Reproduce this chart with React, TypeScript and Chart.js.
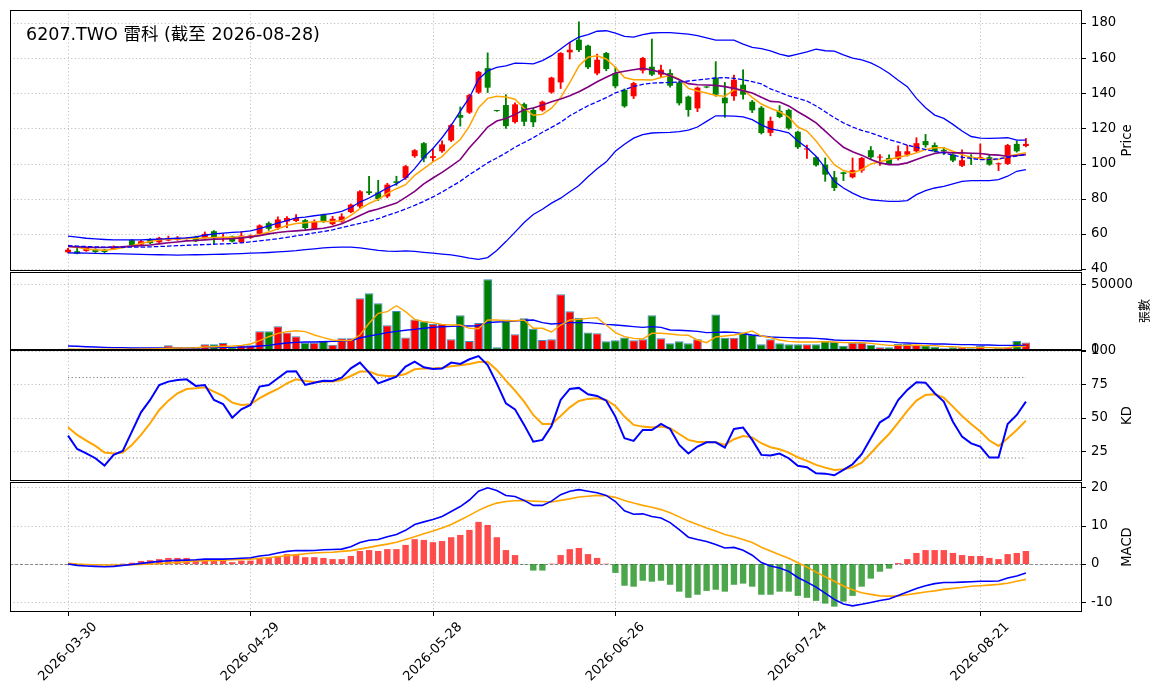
import React, { useEffect, useRef } from "react";
import { Chart, registerables } from "chart.js";

Chart.register(...registerables);

// ---------------- DATA ----------------
const TITLE = "6207.TWO 雷科 (截至 2026-08-28)";

const DATES = [
  "2026-03-30","2026-03-31","2026-04-01","2026-04-02","2026-04-07","2026-04-08","2026-04-09","2026-04-10","2026-04-13","2026-04-14",
  "2026-04-15","2026-04-16","2026-04-17","2026-04-20","2026-04-21","2026-04-22","2026-04-23","2026-04-24","2026-04-27","2026-04-28",
  "2026-04-29","2026-04-30","2026-05-04","2026-05-05","2026-05-06","2026-05-07","2026-05-08","2026-05-11","2026-05-12","2026-05-13",
  "2026-05-14","2026-05-15","2026-05-18","2026-05-19","2026-05-20","2026-05-21","2026-05-22","2026-05-25","2026-05-26","2026-05-27",
  "2026-05-28","2026-05-29","2026-06-01","2026-06-02","2026-06-03","2026-06-04","2026-06-05","2026-06-08","2026-06-09","2026-06-10",
  "2026-06-11","2026-06-12","2026-06-15","2026-06-16","2026-06-17","2026-06-18","2026-06-22","2026-06-23","2026-06-24","2026-06-25",
  "2026-06-26","2026-06-29","2026-06-30","2026-07-01","2026-07-02","2026-07-03","2026-07-06","2026-07-07","2026-07-08","2026-07-09",
  "2026-07-10","2026-07-13","2026-07-14","2026-07-15","2026-07-16","2026-07-17","2026-07-20","2026-07-21","2026-07-22","2026-07-23",
  "2026-07-24","2026-07-27","2026-07-28","2026-07-29","2026-07-30","2026-07-31","2026-08-03","2026-08-04","2026-08-05","2026-08-06",
  "2026-08-07","2026-08-10","2026-08-11","2026-08-12","2026-08-13","2026-08-14","2026-08-17","2026-08-18","2026-08-19","2026-08-20",
  "2026-08-21","2026-08-24","2026-08-25","2026-08-26","2026-08-27","2026-08-28",
];

const OPEN = [
  49.5,50.1,50.3,51.2,50.9,51.2,52.3,56.4,53.9,57.0, 55.2,56.2,56.6,57.2,58.3,57.7,61.5,57.5,58.5,55.2,
  57.7,60.0,66.1,63.4,67.0,67.3,67.8,62.9,70.9,65.5, 67.0,72.4,75.6,84.2,83.6,81.3,89.9,91.8,104.2,111.6,
  103.2,107.0,113.1,127.6,129.0,140.4,154.3,130.1,133.3,123.6, 133.8,130.5,130.3,140.5,146.2,163.3,170.5,167.1,151.3,162.9,
  151.5,142.0,138.3,152.9,155.1,150.6,151.5,146.2,138.1,131.4, 143.6,148.9,137.5,138.3,144.9,135.2,131.8,117.5,130.0,130.5,
  118.1,108.0,103.6,99.4,92.2,95.0,92.2,96.0,107.6,103.4, 103.2,102.7,105.1,107.0,112.8,110.5,107.8,105.1,98.7,103.6,
  102.7,103.6,99.6,99.8,111.2,110.0,
];
const HIGH = [
  51.8,51.8,52.4,51.5,51.2,53.2,53.0,56.8,56.3,57.3, 58.1,58.7,58.5,58.0,58.7,61.1,61.8,60.0,58.8,61.3,
  59.4,65.2,66.8,69.7,69.8,71.0,68.3,68.0,71.3,70.0, 71.5,77.0,84.6,92.8,90.5,88.8,92.8,99.0,108.0,112.0,
  108.6,113.0,122.5,132.2,139.5,152.5,163.0,130.3,139.2,134.5, 134.5,131.7,135.6,149.2,163.2,169.0,180.7,167.5,162.3,163.3,
  155.0,142.5,146.3,160.5,170.9,156.0,153.5,147.0,138.5,143.6, 143.8,158.0,146.2,150.3,153.4,136.0,132.5,126.5,133.0,131.0,
  118.5,110.5,104.0,103.2,95.6,95.2,103.2,103.6,109.7,105.1, 105.0,110.1,110.5,114.7,116.6,111.8,109.3,105.5,107.8,105.1,
  111.2,105.1,100.4,111.0,112.8,114.3,
];
const LOW = [
  49.2,48.6,50.0,49.4,49.0,51.0,52.0,53.2,53.5,54.3, 55.0,56.0,56.3,57.0,55.5,57.5,54.0,55.8,55.3,55.0,
  57.3,59.6,62.0,62.5,63.5,67.0,62.5,62.5,66.5,65.0, 66.5,72.0,74.9,82.3,79.0,80.5,87.6,91.0,103.5,101.0,
  101.3,106.3,112.5,121.3,128.5,139.8,140.4,129.7,120.0,123.0, 121.5,121.0,129.8,140.0,142.7,159.5,163.7,154.0,150.5,152.8,
  143.0,132.0,137.0,151.5,150.0,149.0,143.5,133.3,126.9,129.5, 143.1,138.3,126.3,136.0,136.7,129.0,116.8,115.8,126.0,119.5,
  108.5,102.9,98.5,89.9,84.6,90.3,91.8,95.0,102.9,99.0, 99.4,102.0,104.2,106.5,109.3,106.5,105.1,101.0,98.3,99.4,
  102.3,99.0,96.0,99.4,106.5,109.5,
];
const CLOSE = [
  51.0,48.8,52.0,49.7,49.7,52.8,52.6,53.5,55.8,54.7, 57.7,57.5,57.7,57.4,55.8,60.0,57.7,57.9,55.6,59.0,
  59.0,64.8,62.9,68.2,69.0,69.0,63.3,67.0,67.0,68.6, 69.9,76.6,84.2,83.2,79.8,88.0,89.0,98.5,107.6,102.9,
  104.2,110.9,121.9,126.1,139.0,152.2,143.2,129.9,121.3,133.7, 123.8,123.5,135.2,148.9,162.9,164.8,164.6,154.8,159.1,153.8,
  144.0,132.6,145.8,160.1,150.6,153.4,144.3,134.3,130.5,143.2, 143.3,139.2,134.3,147.7,139.2,130.3,117.4,124.3,126.5,120.0,
  109.3,108.6,99.0,93.7,86.1,94.1,96.2,103.2,103.6,103.8, 99.8,107.0,107.0,111.6,110.5,107.0,107.0,101.7,101.9,103.2,
  103.6,99.4,99.8,110.5,107.0,111.2,
];

const MA5 = [
  52.9,52.3,51.4,50.9,50.7,51.2,52.2,53.3,54.5,55.6, 56.6,57.1,57.1,57.3,57.3,57.7,57.9,58.1,58.1,58.3,
  58.5,59.6,61.0,62.9,64.8,65.9,66.3,66.9,67.0,67.0, 67.4,70.5,74.3,77.3,79.6,83.0,85.7,88.0,93.3,97.1,
  101.0,104.0,109.3,113.7,121.3,131.8,137.1,138.3,137.9,136.6, 131.5,127.5,128.0,131.5,137.5,146.0,155.5,160.5,161.3,159.5,
  154.8,149.0,147.7,147.7,147.5,149.0,150.3,148.1,142.8,141.3, 140.2,138.8,138.3,142.0,142.0,137.7,133.9,131.5,129.5,126.5,
  120.8,118.5,112.8,106.1,99.4,96.0,94.7,96.6,99.8,101.0, 102.3,103.6,104.6,106.1,108.0,109.0,109.0,107.0,105.1,103.6,
  102.9,102.3,102.3,104.2,105.1,106.1,
];
const MA10 = [
  52.8,52.6,52.4,52.2,52.2,52.4,52.6,53.0,53.3,53.7, 54.3,54.9,55.4,56.0,56.2,56.6,57.0,57.1,57.3,57.7,
  58.3,59.0,60.0,60.8,61.3,61.7,62.1,62.7,63.2,64.2, 65.7,68.0,70.5,72.8,74.1,75.8,77.5,80.8,84.2,88.4,
  91.8,95.0,98.5,102.3,109.0,114.7,120.8,124.2,125.7,128.0, 130.6,131.6,133.3,135.2,136.7,138.6,140.9,143.6,146.6,149.1,
  151.5,152.5,153.4,154.2,153.2,151.9,150.0,147.7,145.5,144.9, 144.7,144.5,143.8,142.8,141.5,140.2,137.7,135.4,135.0,132.8,
  129.5,126.5,123.2,118.5,113.7,109.3,106.7,104.8,102.3,100.4, 99.4,99.4,100.4,102.3,104.2,105.7,106.5,106.1,106.1,105.9,
  105.7,105.1,104.8,104.2,104.6,105.1,
];
const BB_MID = [
  53.3,53.0,52.8,52.6,52.4,52.4,52.4,52.4,52.4,52.6, 52.8,53.0,53.3,53.5,53.7,53.9,54.1,54.3,54.5,54.9,
  55.4,56.0,56.6,57.2,58.0,58.9,59.6,60.6,61.3,62.3, 63.6,64.8,65.9,67.2,68.6,70.5,72.2,74.1,76.2,78.5,
  81.0,83.8,86.9,89.9,93.7,97.0,100.4,103.2,106.1,109.3, 112.0,114.7,117.8,120.6,123.5,127.2,130.1,132.9,135.2,137.5,
  140.2,142.0,143.9,145.1,145.8,146.0,146.2,146.4,147.0,147.6, 148.1,148.7,148.9,148.5,147.7,146.6,145.3,142.5,140.6,138.5,
  137.1,135.6,132.8,129.5,126.1,123.2,120.8,118.9,117.5,115.6, 113.7,112.2,110.5,109.3,108.0,107.0,106.1,104.8,103.6,102.9,
  102.3,102.3,102.7,103.6,104.2,105.1,
];
const BB_UP = [
  58.7,58.1,57.5,57.1,56.8,56.6,56.6,56.6,56.6,56.8, 57.0,57.3,57.5,57.7,58.3,59.2,60.0,60.4,60.8,61.1,
  61.7,63.0,64.6,66.1,67.6,69.1,69.5,70.3,70.9,71.6, 72.8,75.0,78.1,80.4,83.2,86.1,88.4,91.8,97.1,103.6,
  108.6,114.7,121.7,129.9,137.5,148.0,152.8,154.7,155.6,157.1, 157.0,156.7,158.6,161.4,165.2,169.0,172.0,173.4,175.3,175.6,
  174.3,172.4,172.0,173.4,174.3,174.5,174.5,174.1,173.7,172.8, 171.5,170.3,170.3,170.3,168.0,166.1,165.4,164.2,162.3,161.1,
  162.3,163.6,165.1,164.2,164.0,161.9,160.0,159.0,157.3,154.7, 151.4,147.4,143.8,137.1,131.8,127.6,125.7,122.3,118.5,115.4,
  114.5,114.3,114.5,114.7,113.3,113.3,
];
const BB_LOW = [
  49.2,49.1,49.0,48.9,48.8,48.7,48.6,48.5,48.3,48.2, 48.1,48.0,47.9,48.0,48.1,48.2,48.3,48.4,48.6,48.8,
  49.0,49.2,49.4,49.7,50.0,50.4,51.0,51.5,52.0,52.3, 52.5,52.4,52.0,51.3,50.6,50.2,50.0,50.3,50.0,49.5,
  49.0,48.5,48.0,47.2,46.2,45.5,46.5,50.5,55.6,61.0, 66.5,71.0,74.0,77.5,80.3,84.0,87.5,92.5,97.0,101.0,
  107.0,111.0,114.5,116.5,117.4,117.6,117.8,118.2,119.0,120.8, 124.0,127.2,127.2,127.0,126.6,125.0,122.0,119.7,118.7,117.5,
  112.8,109.0,104.2,97.5,89.9,86.1,83.2,80.8,79.4,78.9, 78.5,78.5,78.9,82.3,84.6,86.1,87.0,88.4,89.9,90.3,
  90.3,90.3,90.9,92.8,95.6,96.6,
];

const VOLUME = [
  1000,500,700,700,600,700,700,1000,1000,1000, 1500,3550,2000,1000,1500,4300,4300,5300,2000,3550,
  3550,14200,14200,18000,13400,10400,5600,5600,7100,4000, 8900,8900,39300,43100,35500,18800,29700,9600,23300,21800,
  19800,19800,8100,26400,6900,20500,53800,2000,23300,11900, 24100,16200,7600,8100,42400,29400,24600,13400,12700,6600,
  7400,9600,7400,8100,26400,8900,5100,6600,5100,8100, 800,27100,9400,9400,13400,11400,4300,8100,5100,4300,
  4300,4300,4300,7100,6100,3300,5600,5600,4000,2000, 2000,4600,4600,4000,3550,2500,1300,2000,2000,1300,
  3000,800,1500,2000,6900,5800,
];
const VOL_MA5 = [
  600,550,500,500,550,600,650,700,750,800, 1000,1300,1500,1600,1700,2300,2500,2800,3000,3550,
  4600,7100,10100,12700,14000,14700,14000,11400,9400,7600, 7100,7100,11400,20300,27900,29200,33700,29200,23300,21600,
  20800,19500,19000,19000,16500,16200,22800,22800,22300,22300, 22800,16500,16500,13700,19000,22800,23300,24100,24600,19000,
  13200,10150,8880,8370,12700,12700,12200,11400,11200,7600, 5580,9900,10650,11400,12700,14500,10650,9390,7600,6600,
  6090,6090,6090,6340,6090,5580,5580,5580,5070,4310, 3550,3550,3550,3800,3300,3300,2790,2540,2030,1780,
  2030,1780,1520,1780,2540,2790,
];
const VOL_MA20 = [
  3000,2800,2500,2300,2000,1800,1800,1500,1500,1500, 1500,1500,1500,1500,1500,1800,1800,2000,2000,2300,
  2500,3000,3550,4600,5300,5800,6100,6100,6300,6600, 6850,7100,9100,10650,11900,13200,14200,15000,15700,16500,
  17250,17750,18000,18300,18300,18500,20800,21300,21600,22100, 22600,22800,20800,19800,20300,20800,20800,20800,20300,19500,
  19000,18500,17800,17200,17800,17200,15200,14990,14700,14200, 13200,13450,13700,13450,12400,11400,10650,9900,9640,9390,
  9130,9130,8880,8370,7600,7360,7360,7100,6850,6600, 6340,5580,5330,5070,4820,4570,4570,4310,4060,4060,
  3800,3800,3550,3550,3550,3550,
];

const K_LINE = [
  36.7,26.7,23.5,19.8,14.3,22.3,25.2,39.7,54.1,63.3, 74.5,77.0,78.2,78.7,73.8,74.5,63.3,60.3,50.1,56.3,
  59.6,73.3,74.5,79.5,84.5,84.7,74.5,76.2,77.7,77.5, 80.0,86.9,91.2,83.7,75.7,78.2,80.7,88.2,91.9,87.7,
  86.4,86.7,91.2,90.2,93.7,96.1,89.4,75.7,60.8,56.3, 44.7,32.2,33.5,43.9,63.3,71.5,72.3,67.5,66.3,62.8,
  50.9,34.7,32.7,40.9,40.9,45.4,41.7,29.7,23.3,28.5, 31.7,31.7,27.7,41.7,42.7,33.5,22.3,21.8,23.3,19.8,
  14.1,13.1,8.6,8.3,7.1,11.1,15.3,22.8,34.7,46.6, 50.9,63.3,70.8,76.5,76.2,68.3,62.1,47.1,35.9,30.9,
  28.5,20.3,20.3,45.4,52.1,62.1,
];
const D_LINE = [
  42.9,37.2,33.0,29.0,24.0,23.3,24.0,29.7,37.2,45.9, 55.8,62.8,68.3,71.5,72.0,72.8,69.5,66.3,61.3,59.6,
  60.1,64.6,68.3,71.5,75.7,78.7,77.5,76.7,77.0,77.0, 78.2,81.2,84.5,84.5,82.0,81.2,81.2,82.7,86.2,86.7,
  86.7,87.4,88.4,89.2,90.2,91.7,91.9,85.7,77.7,70.3, 62.1,52.1,45.4,45.4,51.4,57.8,62.6,64.1,64.6,63.3,
  58.8,50.9,44.7,43.4,42.7,43.4,42.2,37.9,33.5,32.0, 32.0,31.7,29.7,34.0,36.4,35.4,31.0,28.0,26.5,24.0,
  20.5,17.8,14.8,12.8,11.1,11.6,13.1,16.5,23.5,31.0, 37.9,46.4,55.1,62.8,67.0,67.5,65.0,58.3,51.4,45.4,
  39.7,33.0,29.0,34.7,40.9,47.9,
];
const KD_LEVELS = [80, 20];

const DIF = [
  0,-0.35,-0.5,-0.6,-0.7,-0.6,-0.35,-0.1,0.17,0.43, 0.7,0.87,0.96,1.04,1.13,1.3,1.3,1.3,1.4,1.5,
  1.65,2.1,2.35,2.9,3.3,3.55,3.5,3.55,3.75,3.8, 3.9,4.5,5.6,6.2,6.4,7.1,7.7,8.8,10.3,11.0,
  11.6,12.4,13.7,15.0,16.7,19.0,19.9,19.2,17.9,17.6, 16.6,15.3,15.3,16.4,18.1,19.0,19.4,19.0,18.6,17.9,
  16.3,13.9,13.0,13.1,12.4,12.0,10.8,9.0,7.0,6.4, 5.9,5.1,4.2,4.35,3.6,2.3,0.4,-0.5,-1.0,-1.9,
  -3.5,-4.7,-6.0,-7.6,-9.2,-10.4,-10.9,-10.5,-10.0,-9.5, -9.1,-8.2,-7.3,-6.4,-5.65,-5.1,-4.8,-4.8,-4.7,-4.6,
  -4.5,-4.5,-4.4,-3.65,-3.1,-2.35,
];
const DEA = [
  0.17,0,-0.1,-0.17,-0.26,-0.26,-0.26,-0.17,-0.1,0, 0.1,0.26,0.43,0.6,0.78,0.87,0.96,1.04,1.13,1.2,
  1.3,1.5,1.65,1.9,2.2,2.4,2.7,2.9,3.0,3.1, 3.3,3.5,3.9,4.35,4.8,5.2,5.7,6.4,7.1,7.9,
  8.6,9.4,10.3,11.5,12.7,14.0,15.1,15.9,16.3,16.5, 16.6,16.4,16.3,16.2,16.6,17.0,17.5,17.7,17.9,17.8,
  17.4,16.6,15.9,15.3,14.8,14.2,13.4,12.3,11.2,10.3, 9.4,8.6,7.7,7.1,6.4,5.6,4.4,3.4,2.4,1.5,
  0.35,-0.8,-2.1,-3.3,-4.5,-5.7,-6.7,-7.5,-7.9,-8.3, -8.35,-8.3,-8.0,-7.65,-7.3,-7.0,-6.6,-6.35,-6.1,-5.8,
  -5.65,-5.5,-5.3,-5.0,-4.5,-4.0,
];
const OSC = [
  0,-0.1,-0.1,-0.1,-0.05,0.05,0.1,0.35,0.8,1.0, 1.3,1.6,1.6,1.6,1.0,0.9,0.9,0.9,0.5,0.9,
  0.9,1.5,1.7,2.1,2.6,2.6,1.8,1.8,1.6,1.3, 1.3,2.1,3.4,3.65,3.4,3.9,3.9,5.0,6.5,6.3,
  5.7,6.0,7.0,7.6,8.9,11.0,10.2,7.0,3.65,2.35, -0.1,-1.7,-1.7,0.1,2.35,3.9,4.2,2.6,1.6,0.1,
  -2.3,-5.65,-5.9,-4.35,-4.6,-4.35,-5.4,-7.2,-8.8,-8.0, -7.0,-6.7,-7.2,-5.4,-5.1,-5.9,-8.0,-8.0,-7.2,-7.2,
  -8.3,-8.8,-9.6,-10.3,-11.1,-9.8,-8.3,-5.9,-3.8,-2.0, -1.2,0.26,1.3,2.9,3.65,3.65,3.65,2.9,2.35,2.1,
  2.1,1.6,1.3,2.6,2.9,3.4,
];

const X_TICKS = [0, 20, 40, 60, 80, 100];
const PRICE_TICKS = [40, 60, 80, 100, 120, 140, 160, 180];
const VOLUME_TICKS = [0, 50000];
const KD_TICKS = [25, 50, 75, 100];
const MACD_TICKS = [-10, 0, 10, 20];

// ---------------- STYLE ----------------
const W = 1163;
const FONT = '"DejaVu Sans", "Noto Sans CJK TC", sans-serif';
const TICK_SIZE = 13.2;
const LABEL_SIZE = 13.2;
const UP = "#ff0000";
const DOWN = "#008000";
const BLUE = "#0000ff";
const ORANGE = "#ffa500";
const PURPLE = "#800080";
const GRID = "#b0b0b0";
const X_MIN = -6.36;
const X_MAX = 111.15;

Chart.defaults.font.family = FONT;

const pts = (arr: number[]) => arr.map((y, i) => ({ x: i, y }));
const candleColors = OPEN.map((o, i) => (CLOSE[i] >= o ? UP : DOWN));

const line = (data: number[], color: string, width: number, extra: any = {}) => ({
  type: "line",
  data: pts(data),
  borderColor: color,
  borderWidth: width,
  pointRadius: 0,
  fill: false,
  tension: 0,
  order: 0,
  ...extra,
});

function decoPlugin(spec: any) {
  return {
    id: "deco",
    beforeDatasetsDraw(chart: any) {
      const { ctx, chartArea: a } = chart;
      const xs = chart.scales.x;
      const ys = chart.scales.y;
      ctx.save();
      ctx.strokeStyle = GRID;
      ctx.lineWidth = 0.8;
      ctx.setLineDash([1.2, 2.4]);
      ctx.beginPath();
      X_TICKS.forEach((t) => {
        const px = Math.round(xs.getPixelForValue(t)) + 0.5;
        ctx.moveTo(px, a.top);
        ctx.lineTo(px, a.bottom);
      });
      spec.yTicks.forEach((t: number) => {
        const py = Math.round(ys.getPixelForValue(t)) + 0.5;
        if (py > a.top + 1 && py < a.bottom - 1) {
          ctx.moveTo(a.left, py);
          ctx.lineTo(a.right, py);
        }
      });
      ctx.stroke();
      if (spec.zeroLine) {
        const py = Math.round(ys.getPixelForValue(0)) + 0.5;
        ctx.strokeStyle = "#808080";
        ctx.lineWidth = 0.9;
        ctx.setLineDash([3, 2]);
        ctx.beginPath();
        ctx.moveTo(a.left, py);
        ctx.lineTo(a.right, py);
        ctx.stroke();
      }
      ctx.restore();
    },
    afterDraw(chart: any) {
      const { ctx, chartArea: a } = chart;
      const xs = chart.scales.x;
      const ys = chart.scales.y;
      ctx.save();
      ctx.setLineDash([]);
      ctx.strokeStyle = "#000";
      ctx.lineWidth = 1;
      const l = Math.round(a.left) + 0.5;
      const t = Math.round(a.top) + 0.5;
      const r = Math.round(a.right) - 0.5;
      const b = Math.round(a.bottom) - 0.5;
      ctx.strokeRect(l, t, r - l, b - t);
      ctx.beginPath();
      spec.yTicks.forEach((v: number) => {
        const py = Math.round(ys.getPixelForValue(v)) + 0.5;
        ctx.moveTo(r, py);
        ctx.lineTo(r + 4.5, py);
      });
      ctx.stroke();

      // axis title on right, reading bottom to top
      ctx.fillStyle = "#000";
      ctx.font = `${spec.labelSize}px ${FONT}`;
      ctx.save();
      ctx.translate(spec.labelX, (a.top + a.bottom) / 2);
      ctx.rotate(-Math.PI / 2);
      ctx.textAlign = "center";
      ctx.textBaseline = "middle";
      ctx.fillText(spec.label, 0, 0);
      ctx.restore();

      if (spec.title) {
        ctx.font = `17.5px ${FONT}`;
        ctx.textAlign = "left";
        ctx.textBaseline = "alphabetic";
        ctx.fillText(spec.title, 26, 39.5 - spec.top);
      }

      if (spec.xLabels) {
        ctx.font = `${TICK_SIZE}px ${FONT}`;
        ctx.beginPath();
        X_TICKS.forEach((v) => {
          const px = Math.round(xs.getPixelForValue(v)) + 0.5;
          ctx.moveTo(px, b);
          ctx.lineTo(px, b + 4.5);
        });
        ctx.stroke();
        X_TICKS.forEach((v) => {
          const px = xs.getPixelForValue(v);
          const txt = DATES[v];
          const w = ctx.measureText(txt).width;
          const h = TICK_SIZE * 1.15;
          const box = (w + h) * Math.SQRT1_2;
          ctx.save();
          ctx.translate(px, b + 8 + box / 2);
          ctx.rotate(-Math.PI / 4);
          ctx.textAlign = "center";
          ctx.textBaseline = "middle";
          ctx.fillText(txt, 0, 0);
          ctx.restore();
        });
      }
      ctx.restore();
    },
  };
}

function makeConfig(spec: any) {
  return {
    type: "bar",
    data: { datasets: spec.datasets },
    options: {
      animation: false,
      responsive: false,
      maintainAspectRatio: false,
      events: [],
      layout: { padding: { left: 10, right: 0, top: spec.padTop, bottom: spec.padBottom } },
      plugins: { legend: { display: false }, tooltip: { enabled: false }, title: { display: false } },
      scales: {
        x: {
          type: "linear",
          min: X_MIN,
          max: X_MAX,
          offset: false,
          display: false,
          afterBuildTicks: (s: any) => {
            s.ticks = X_TICKS.map((v) => ({ value: v }));
          },
        },
        y: {
          type: "linear",
          position: "right",
          min: spec.yMin,
          max: spec.yMax,
          afterBuildTicks: (s: any) => {
            s.ticks = spec.yTicks.map((v: number) => ({ value: v }));
          },
          afterFit: (s: any) => {
            s.width = 81;
          },
          grid: { display: false, drawTicks: false },
          border: { display: false },
          ticks: {
            color: "#000",
            padding: 9,
            autoSkip: false,
            maxRotation: 0,
            font: { family: FONT, size: TICK_SIZE },
            callback: (v: any) => String(v),
          },
        },
      },
    },
    plugins: [decoPlugin(spec)],
  };
}

// chart areas: price 10-271, volume 272-350, KD 350-481, MACD 482-612
const PANELS = [
  {
    top: -10, height: 300, padTop: 20, padBottom: 19,
    yMin: 38.86, yMax: 187.4, yTicks: PRICE_TICKS,
    label: "Price", labelX: 1128, labelSize: LABEL_SIZE, title: TITLE,
    datasets: [
      line(BB_UP, BLUE, 1.3),
      line(BB_MID, BLUE, 1.3, { borderDash: [4.6, 2] }),
      line(BB_LOW, BLUE, 1.3),
      line(MA10, PURPLE, 1.6),
      line(MA5, ORANGE, 1.5),
      {
        type: "bar",
        data: OPEN.map((o, i) => ({ x: i, y: [o, CLOSE[i]] })),
        backgroundColor: candleColors,
        borderWidth: 0,
        barPercentage: 0.65,
        categoryPercentage: 1,
        grouped: false,
        minBarLength: 1,
        order: 1,
      },
      {
        type: "bar",
        data: LOW.map((lo, i) => ({ x: i, y: [lo, HIGH[i]] })),
        backgroundColor: candleColors,
        borderWidth: 0,
        barThickness: 1.2,
        grouped: false,
        order: 2,
      },
    ],
  },
  {
    top: 252, height: 118, padTop: 20, padBottom: 20,
    yMin: 0, yMax: 59360, yTicks: VOLUME_TICKS,
    label: "張數", labelX: 1146, labelSize: 12,
    datasets: [
      line(VOL_MA5, ORANGE, 1.4),
      line(VOL_MA20, BLUE, 1.4),
      {
        type: "bar",
        data: pts(VOLUME),
        backgroundColor: candleColors,
        borderColor: "rgba(31,119,180,0.85)",
        borderWidth: 1,
        borderSkipped: false,
        barPercentage: 0.95,
        categoryPercentage: 1,
        grouped: false,
        order: 1,
      },
    ],
  },
  {
    top: 330, height: 171, padTop: 20, padBottom: 20,
    yMin: 2.8, yMax: 100.6, yTicks: KD_TICKS,
    label: "KD", labelX: 1128, labelSize: LABEL_SIZE,
    datasets: [
      line(K_LINE, BLUE, 2),
      line(D_LINE, ORANGE, 2),
      ...KD_LEVELS.map((lv) =>
        line([lv, lv], "#7a7a7a", 1, {
          data: [{ x: 0, y: lv }, { x: DATES.length - 1, y: lv }],
          borderDash: [1.2, 2.4],
          order: 1,
        })
      ),
    ],
  },
  {
    top: 462, height: 236, padTop: 20, padBottom: 86,
    yMin: -12.5, yMax: 21.4, yTicks: MACD_TICKS,
    label: "MACD", labelX: 1128, labelSize: LABEL_SIZE, xLabels: true, zeroLine: true,
    datasets: [
      line(DIF, BLUE, 1.6),
      line(DEA, ORANGE, 1.6),
      {
        type: "bar",
        data: pts(OSC),
        backgroundColor: OSC.map((v) => (v >= 0 ? "rgba(255,0,0,0.7)" : "rgba(0,128,0,0.7)")),
        borderWidth: 0,
        barPercentage: 0.7,
        categoryPercentage: 1,
        grouped: false,
        order: 1,
      },
    ],
  },
];

function Panel({ spec }: { spec: any }) {
  const ref = useRef<HTMLCanvasElement | null>(null);
  useEffect(() => {
    if (!ref.current) return;
    const chart = new Chart(ref.current, makeConfig(spec) as any);
    return () => chart.destroy();
  }, [spec]);
  return (
    <canvas
      ref={ref}
      width={W}
      height={spec.height}
      style={{ position: "absolute", left: 0, top: spec.top, width: W, height: spec.height }}
    />
  );
}

export default function App() {
  return (
    <div
      style={{
        position: "absolute",
        left: 0,
        top: 0,
        width: W,
        height: 698,
        background: "#fff",
        overflow: "hidden",
      }}
    >
      {PANELS.map((p, i) => (
        <Panel key={i} spec={p} />
      ))}
    </div>
  );
}
